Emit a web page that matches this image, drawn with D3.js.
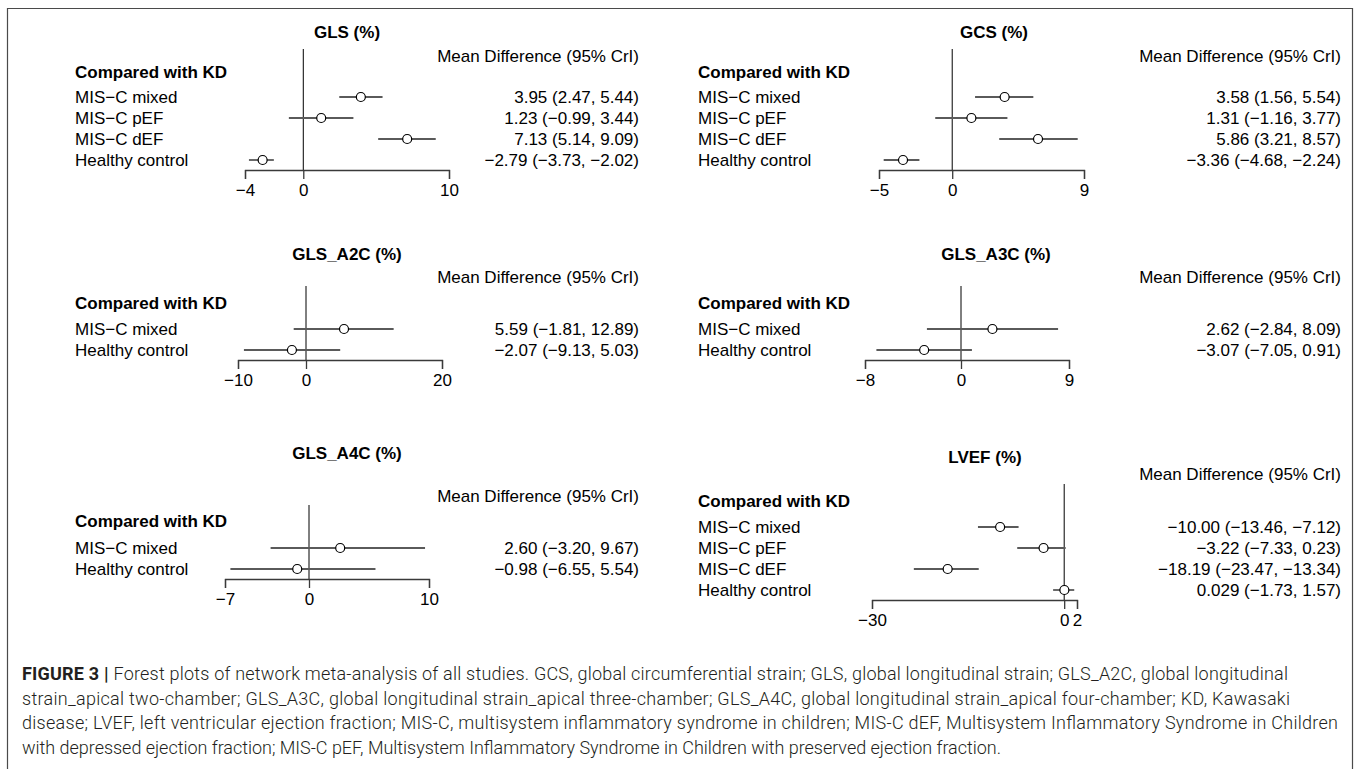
<!DOCTYPE html>
<html><head><meta charset="utf-8">
<script src="https://cdn.jsdelivr.net/npm/d3@7"></script>
<style>body{margin:0;background:#fff}svg{display:block}</style>
</head><body>
<svg id="chart" width="1360" height="769"></svg>
<script>
// ---------- DATA ----------
const groupHeader = "Compared with KD";
const columnHeader = "Mean Difference (95% CrI)";

const glsTitle = "GLS (%)";
const glsCategories = ["MIS−C mixed", "MIS−C pEF", "MIS−C dEF", "Healthy control"];
const glsMean  = [3.95, 1.23, 7.13, -2.79];
const glsLower = [2.47, -0.99, 5.14, -3.73];
const glsUpper = [5.44, 3.44, 9.09, -2.02];
const glsTicks = [-4, 0, 10];

const gcsTitle = "GCS (%)";
const gcsCategories = ["MIS−C mixed", "MIS−C pEF", "MIS−C dEF", "Healthy control"];
const gcsMean  = [3.58, 1.31, 5.86, -3.36];
const gcsLower = [1.56, -1.16, 3.21, -4.68];
const gcsUpper = [5.54, 3.77, 8.57, -2.24];
const gcsTicks = [-5, 0, 9];

const a2cTitle = "GLS_A2C (%)";
const a2cCategories = ["MIS−C mixed", "Healthy control"];
const a2cMean  = [5.59, -2.07];
const a2cLower = [-1.81, -9.13];
const a2cUpper = [12.89, 5.03];
const a2cTicks = [-10, 0, 20];

const a3cTitle = "GLS_A3C (%)";
const a3cCategories = ["MIS−C mixed", "Healthy control"];
const a3cMean  = [2.62, -3.07];
const a3cLower = [-2.84, -7.05];
const a3cUpper = [8.09, 0.91];
const a3cTicks = [-8, 0, 9];

const a4cTitle = "GLS_A4C (%)";
const a4cCategories = ["MIS−C mixed", "Healthy control"];
const a4cMean  = [2.60, -0.98];
const a4cLower = [-3.20, -6.55];
const a4cUpper = [9.67, 5.54];
const a4cTicks = [-7, 0, 10];

const lvefTitle = "LVEF (%)";
const lvefCategories = ["MIS−C mixed", "MIS−C pEF", "MIS−C dEF", "Healthy control"];
const lvefMean  = [-10.00, -3.22, -18.19, 0.029];
const lvefLower = [-13.46, -7.33, -23.47, -1.73];
const lvefUpper = [-7.12, 0.23, -13.34, 1.57];
const lvefTicks = [-30, 0, 2];

const captionLabel = "FIGURE 3";
const captionLines = [
  "Forest plots of network meta-analysis of all studies. GCS, global circumferential strain; GLS, global longitudinal strain; GLS_A2C, global longitudinal",
  "strain_apical two-chamber; GLS_A3C, global longitudinal strain_apical three-chamber; GLS_A4C, global longitudinal strain_apical four-chamber; KD, Kawasaki",
  "disease; LVEF, left ventricular ejection fraction; MIS-C, multisystem inflammatory syndrome in children; MIS-C dEF, Multisystem Inflammatory Syndrome in Children",
  "with depressed ejection fraction; MIS-C pEF, Multisystem Inflammatory Syndrome in Children with preserved ejection fraction."
];

// ---------- LAYOUT (positions only) ----------
const layouts = [
  {labelX: 75,  valueX: 639,  titleX: 347, titleY: 32,  headerY: 56,  lineTop: 49,  groupY: 72,  row0: 97,  range: [245, 449]},
  {labelX: 698, valueX: 1341, titleX: 994, titleY: 32,  headerY: 56,  lineTop: 49,  groupY: 72,  row0: 97,  range: [879, 1084]},
  {labelX: 75,  valueX: 639,  titleX: 347, titleY: 254, headerY: 277, lineTop: 286, groupY: 303, row0: 329, range: [238, 442]},
  {labelX: 698, valueX: 1341, titleX: 996, titleY: 254, headerY: 277, lineTop: 286, groupY: 303, row0: 329, range: [865, 1069]},
  {labelX: 75,  valueX: 639,  titleX: 347, titleY: 453, headerY: 496, lineTop: 505, groupY: 521, row0: 548, range: [225, 429]},
  {labelX: 698, valueX: 1341, titleX: 985, titleY: 457, headerY: 474, lineTop: 484, groupY: 501, row0: 527, range: [872, 1077]}
];
const rowStep = 21;
const fontSize = 17;
const captionLayout = {x: 22, y0: 673, step: 24.5, widths: [1266, 1268, 1316, 979]};

const panels = [
  {title: glsTitle,  cats: glsCategories,  mean: glsMean,  lo: glsLower,  hi: glsUpper,  ticks: glsTicks},
  {title: gcsTitle,  cats: gcsCategories,  mean: gcsMean,  lo: gcsLower,  hi: gcsUpper,  ticks: gcsTicks},
  {title: a2cTitle,  cats: a2cCategories,  mean: a2cMean,  lo: a2cLower,  hi: a2cUpper,  ticks: a2cTicks},
  {title: a3cTitle,  cats: a3cCategories,  mean: a3cMean,  lo: a3cLower,  hi: a3cUpper,  ticks: a3cTicks},
  {title: a4cTitle,  cats: a4cCategories,  mean: a4cMean,  lo: a4cLower,  hi: a4cUpper,  ticks: a4cTicks},
  {title: lvefTitle, cats: lvefCategories, mean: lvefMean, lo: lvefLower, hi: lvefUpper, ticks: lvefTicks}
];

const minus = s => s.replace(/-/g, "−");
const fmt = v => minus((Math.abs(v) < 0.1 && v !== 0) ? v.toFixed(3) : v.toFixed(2));

const svg = d3.select("#chart");
svg.append("rect").attr("width", 1360).attr("height", 769).attr("fill", "#fff");

// frame
svg.append("path")
  .attr("d", "M7.5,769 V8.5 H1352.5 V769")
  .attr("fill", "none").attr("stroke", "#4a4a4a").attr("stroke-width", 1.2);

const FONT = "'Liberation Sans', Arial, Helvetica, sans-serif";

panels.forEach((p, i) => {
  const L = layouts[i];
  const g = svg.append("g").attr("font-family", FONT).attr("fill", "#000");
  const x = d3.scaleLinear().domain(d3.extent(p.ticks)).range(L.range);
  const y = d3.scalePoint().domain(p.cats)
    .range([L.row0, L.row0 + rowStep * (p.cats.length - 1)]);
  const axisY = L.row0 + rowStep * (p.cats.length - 1) + 10;

  g.append("text").attr("x", L.titleX).attr("y", L.titleY)
    .attr("text-anchor", "middle").attr("dominant-baseline", "central")
    .attr("font-size", fontSize).attr("font-weight", "bold").text(p.title);

  g.append("text").attr("x", L.valueX).attr("y", L.headerY)
    .attr("text-anchor", "end").attr("dominant-baseline", "central")
    .attr("font-size", fontSize).text(columnHeader);

  g.append("text").attr("x", L.labelX).attr("y", L.groupY)
    .attr("dominant-baseline", "central")
    .attr("font-size", fontSize).attr("font-weight", "bold").text(groupHeader);

  // zero line
  g.append("line").attr("x1", x(0)).attr("x2", x(0))
    .attr("y1", L.lineTop).attr("y2", axisY)
    .attr("stroke", "#000").attr("stroke-width", 1);

  // axis
  const ax = g.append("g").attr("transform", `translate(0,${axisY})`)
    .call(d3.axisBottom(x).tickValues(p.ticks).tickSize(9).tickSizeOuter(9)
      .tickFormat(d => minus(String(d))));
  ax.select(".domain").attr("stroke", "#3a3a3a").attr("stroke-width", 1.3);
  ax.selectAll(".tick line").attr("stroke", "#3a3a3a").attr("stroke-width", 1.3);
  ax.selectAll(".tick text").attr("font-size", fontSize).attr("font-family", FONT)
    .attr("fill", "#000").attr("dy", "0.8em");

  const rows = p.cats.map((c, j) => ({c, m: p.mean[j], lo: p.lo[j], hi: p.hi[j]}));

  g.selectAll("text.lab").data(rows).join("text").attr("class", "lab")
    .attr("x", L.labelX).attr("y", d => y(d.c))
    .attr("dominant-baseline", "central").attr("font-size", fontSize).text(d => d.c);

  g.selectAll("text.val").data(rows).join("text").attr("class", "val")
    .attr("x", L.valueX).attr("y", d => y(d.c))
    .attr("text-anchor", "end").attr("dominant-baseline", "central")
    .attr("font-size", fontSize).text(d => `${fmt(d.m)} (${fmt(d.lo)}, ${fmt(d.hi)})`);

  g.selectAll("line.ci").data(rows).join("line").attr("class", "ci")
    .attr("x1", d => x(d.lo)).attr("x2", d => x(d.hi))
    .attr("y1", d => y(d.c)).attr("y2", d => y(d.c))
    .attr("stroke", "#5a5a5a").attr("stroke-width", 1.8);

  g.selectAll("circle.pt").data(rows).join("circle").attr("class", "pt")
    .attr("cx", d => x(d.m)).attr("cy", d => y(d.c)).attr("r", 4.5)
    .attr("fill", "#fff").attr("stroke", "#000").attr("stroke-width", 1.2);
});

// caption
const C = captionLayout;
const cap = svg.append("g").attr("font-family", "Roboto, 'Liberation Sans', sans-serif")
  .attr("font-size", 18).attr("fill", "#231f20");
captionLines.forEach((line, i) => {
  const t = cap.append("text").attr("x", C.x).attr("y", C.y0 + i * C.step)
    .attr("dominant-baseline", "central").attr("font-weight", 300)
    .attr("textLength", C.widths[i]).attr("lengthAdjust", "spacing");
  if (i === 0) {
    t.append("tspan").attr("font-weight", "bold").text(captionLabel + " ");
    t.append("tspan").attr("font-weight", "bold").text("| ");
  }
  t.append("tspan").text(line);
});
</script>
</body></html>
